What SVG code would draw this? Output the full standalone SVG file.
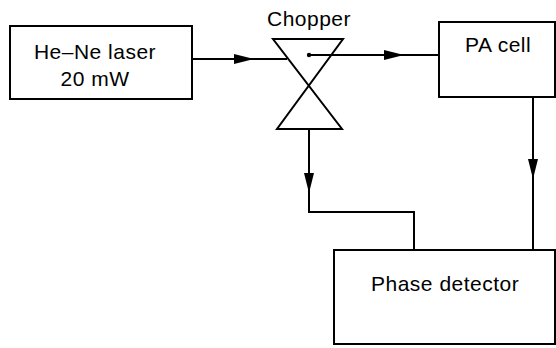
<svg xmlns="http://www.w3.org/2000/svg" width="556" height="348" viewBox="0 0 556 348">
<style>
.box{fill:#fff;stroke:#000;stroke-width:2}
.ln{fill:none;stroke:#000;stroke-width:2}
.t{font-family:"Liberation Sans",Arial,sans-serif;font-size:21px;fill:#000;letter-spacing:0.5px}
</style>
<defs>
<marker id="ah" markerUnits="userSpaceOnUse" markerWidth="21" markerHeight="11" refX="20" refY="5" orient="auto" overflow="visible">
<path d="M0,0 L20,5 L0,10 z" fill="#000"/>
</marker>
</defs>
<rect width="556" height="348" fill="#fff"/>
<g id="laser">
<rect class="box" x="10" y="26" width="182" height="73"/>
<text class="t" x="95" y="59" text-anchor="middle">He–Ne laser</text>
<text class="t" x="95" y="86" text-anchor="middle">20 mW</text>
</g>
<g id="chopper">
<text class="t" x="309" y="26" text-anchor="middle">Chopper</text>
<path class="ln" d="M273,39 L343,39 L277,129 L342,129 Z"/>
<circle cx="309" cy="55" r="2.2" fill="#000"/>
</g>
<g id="pacell">
<rect class="box" x="439" y="22" width="116" height="75"/>
<text class="t" x="465" y="52">PA cell</text>
</g>
<g id="phase">
<rect class="box" x="334" y="250" width="221" height="94"/>
<text class="t" x="371" y="291">Phase detector</text>
</g>
<g id="connectors">
<path class="ln" d="M192,59 L254,59 L287,59" marker-mid="url(#ah)"/>
<path class="ln" d="M309,55 L404,55 L439,55" marker-mid="url(#ah)"/>
<path class="ln" d="M309,129 L309,193 L309,212" marker-mid="url(#ah)"/>
<path class="ln" d="M308,212 L414,212 L414,250"/>
<path class="ln" d="M533,97 L533,179 L533,250" marker-mid="url(#ah)"/>
</g>
</svg>
